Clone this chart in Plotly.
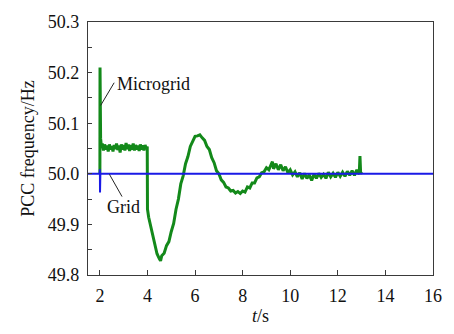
import plotly.graph_objects as go

# Microgrid (green) PCC frequency trace
t_micro = [2.00, 2.005, 2.01, 2.02, 2.03, 2.05, 2.08,
           2.10, 2.15, 2.20, 2.25, 2.30, 2.35, 2.40, 2.45, 2.50, 2.55,
           2.60, 2.65, 2.70, 2.75, 2.80, 2.85, 2.90, 2.95, 3.00, 3.05,
           3.10, 3.15, 3.20, 3.25, 3.30, 3.35, 3.40, 3.45, 3.50, 3.55,
           3.60, 3.65, 3.70, 3.75, 3.80, 3.85, 3.90, 3.95, 3.99,
           4.00, 4.05, 4.10, 4.20, 4.30, 4.40, 4.50, 4.55, 4.60, 4.70,
           4.80, 4.90, 5.00, 5.10, 5.20, 5.30, 5.40, 5.50, 5.60, 5.70,
           5.80, 5.90, 6.00, 6.10, 6.20, 6.30, 6.40, 6.50, 6.60, 6.70,
           6.80, 6.90, 7.00, 7.10, 7.20, 7.30, 7.40, 7.50, 7.60, 7.70,
           7.80, 7.90, 8.00, 8.10, 8.20, 8.30, 8.40, 8.50, 8.60, 8.70,
           8.80, 8.90, 9.00, 9.10, 9.20, 9.25, 9.30, 9.40, 9.50, 9.60, 9.70,
           9.80, 9.90, 10.00, 10.10, 10.20, 10.30, 10.40, 10.50, 10.60, 10.70,
           10.80, 10.90, 11.00, 11.10, 11.20, 11.30, 11.40, 11.50, 11.60, 11.70,
           11.80, 11.90, 12.00, 12.10, 12.20, 12.30, 12.40, 12.50, 12.60, 12.70,
           12.80, 12.90, 12.93, 12.96, 13.00]
f_micro = [50.000, 50.210, 50.150, 50.100, 50.070, 50.060, 50.052,
           50.060, 50.046, 50.058, 50.048, 50.056, 50.044, 50.058, 50.048, 50.055, 50.044,
           50.057, 50.049, 50.060, 50.047, 50.056, 50.042, 50.058, 50.048, 50.057, 50.046,
           50.061, 50.049, 50.058, 50.045, 50.057, 50.048, 50.060, 50.046, 50.057, 50.048,
           50.056, 50.045, 50.058, 50.048, 50.056, 50.046, 50.057, 50.049, 50.054,
           49.930, 49.914, 49.903, 49.880, 49.860, 49.842, 49.832, 49.828, 49.838, 49.843,
           49.858, 49.866, 49.886, 49.902, 49.930, 49.950, 49.980, 49.996, 50.020, 50.034,
           50.054, 50.064, 50.074, 50.075, 50.077, 50.071, 50.066, 50.054, 50.048, 50.032,
           50.022, 50.006, 50.000, 49.988, 49.983, 49.974, 49.972, 49.966, 49.967, 49.962,
           49.965, 49.961, 49.966, 49.964, 49.974, 49.972, 49.982, 49.982, 49.992, 49.994,
           50.002, 50.004, 50.012, 50.008, 50.018, 50.024, 50.010, 50.020, 50.008, 50.018, 50.006,
           50.014, 50.002, 50.008, 49.998, 50.004, 49.994, 50.002, 49.990, 50.001, 49.991,
           49.998, 49.987, 49.999, 49.991, 50.001, 49.993, 49.999, 49.991, 50.003, 49.994,
           50.001, 49.993, 50.003, 49.995, 50.003, 49.995, 50.005, 49.997, 50.006, 49.997,
           50.008, 49.999, 50.035, 50.000, 50.004]

# Grid (blue) PCC frequency trace
t_grid = [1.5, 1.99, 2.00, 2.005, 2.01, 2.02, 16.0]
f_grid = [50.0, 50.0, 50.009, 49.963, 50.0, 50.0, 50.0]

x_ticks = [2, 4, 6, 8, 10, 12, 14, 16]
y_ticks = [49.8, 49.9, 50.0, 50.1, 50.2, 50.3]
y_tick_text = ["49.8", "49.9", "50.0", "50.1", "50.2", "50.3"]

FONT = '"Liberation Serif", "DejaVu Serif", serif'
GREEN = "#13891a"
BLUE = "#1a1ae6"
AX = "#3a3a3a"

fig = go.Figure()
fig.add_trace(go.Scatter(x=t_micro, y=f_micro, mode="lines",
                         line=dict(color=GREEN, width=3), showlegend=False))
fig.add_trace(go.Scatter(x=t_grid, y=f_grid, mode="lines",
                         line=dict(color=BLUE, width=2), showlegend=False))

# leader lines
fig.add_shape(type="line", x0=2.03, y0=50.135, x1=2.6, y1=50.18,
              line=dict(color="#222", width=1))
fig.add_shape(type="line", x0=2.4, y0=49.999, x1=2.93, y1=49.955,
              line=dict(color="#222", width=1))
fig.add_annotation(x=2.65, y=50.178, text="Microgrid", showarrow=False,
                   xanchor="left", yanchor="middle",
                   font=dict(family=FONT, size=18, color="#111"))
fig.add_annotation(x=2.99, y=49.934, text="Grid", showarrow=False,
                   xanchor="center", yanchor="middle",
                   font=dict(family=FONT, size=18, color="#111"))

fig.update_layout(
    width=454, height=334,
    margin=dict(l=88, r=13, t=17, b=53),
    paper_bgcolor="white", plot_bgcolor="white",
    font=dict(family=FONT, size=18, color="#111"),
)
fig.update_xaxes(range=[1.5, 16], tickvals=x_ticks, ticks="inside", ticklen=5,
                 tickcolor=AX, showline=True, linecolor=AX, linewidth=1.2,
                 mirror=True, showgrid=False, zeroline=False,
                 ticklabelstandoff=4,
                 tickfont=dict(family=FONT, size=18),
                 title=dict(text="<i>t</i>/s", standoff=4,
                            font=dict(family=FONT, size=18)))
fig.update_yaxes(range=[49.8, 50.3], tickvals=y_ticks, ticktext=y_tick_text,
                 ticks="inside", ticklen=4, tickcolor=AX,
                 minor=dict(dtick=0.05, ticks="inside", ticklen=4, tickcolor=AX),
                 showline=True, linecolor=AX, linewidth=1.2, mirror=True,
                 showgrid=False, zeroline=False, ticklabelstandoff=4,
                 tickfont=dict(family=FONT, size=18),
                 title=dict(text="PCC frequency/Hz", standoff=8,
                            font=dict(family=FONT, size=18)))

fig.write_html("out.html")
